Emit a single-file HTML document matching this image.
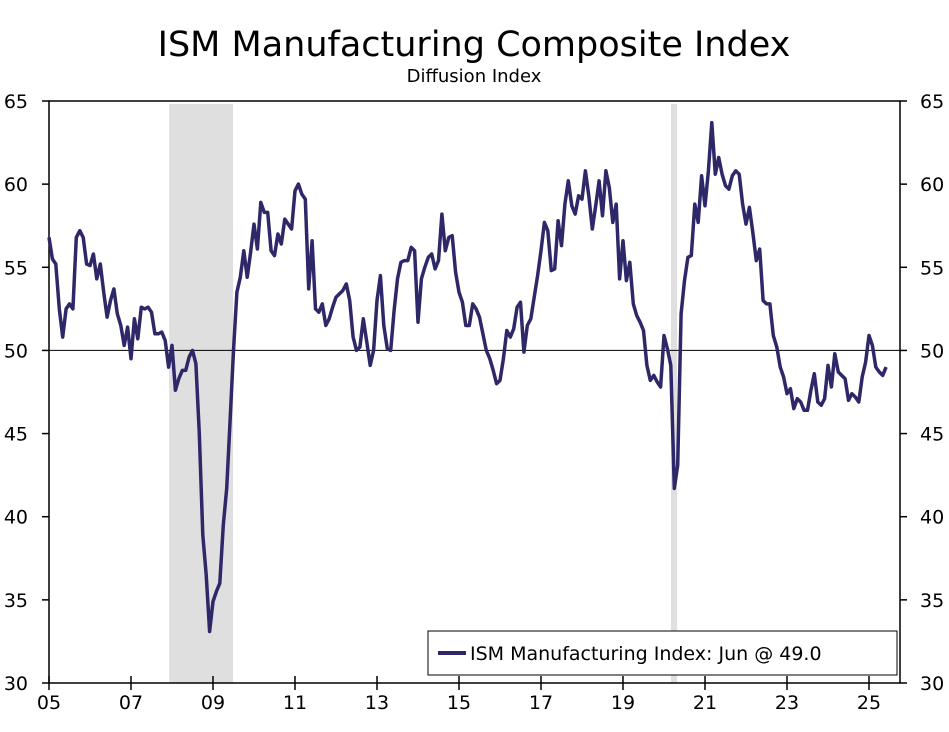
<!DOCTYPE html>
<html><head><meta charset="utf-8"><style>
body{margin:0;background:#fff;}
svg text{font-family:"DejaVu Sans","Liberation Sans",sans-serif;fill:#000;}
</style></head><body>
<svg id="chart" width="949" height="727" viewBox="0 0 949 727" xmlns="http://www.w3.org/2000/svg">
<text x="474" y="56" font-size="35" text-anchor="middle">ISM Manufacturing Composite Index</text>
<text x="474" y="82" font-size="18" text-anchor="middle">Diffusion Index</text>
<g id="rec"></g><g id="axes"></g><g id="series"></g>
<g>
<rect x="428" y="631" width="469" height="44" fill="#fff" stroke="#000" stroke-width="1"/>
<line x1="438" y1="653" x2="466" y2="653" stroke="#2e2868" stroke-width="4"/>
<text x="470" y="660" font-size="19">ISM Manufacturing Index: Jun @ 49.0</text>
</g>
</svg>
<script>
const startYear = 2005;
const values = [
56.8,55.5,55.2,52.5,50.8,52.5,52.8,52.5,56.8,57.2,56.8,55.2,
55.1,55.8,54.3,55.2,53.5,52.0,53.0,53.7,52.2,51.5,50.3,51.4,
49.5,51.9,50.7,52.6,52.5,52.6,52.3,51.0,51.0,51.1,50.6,49.0,
50.3,47.6,48.3,48.8,48.8,49.6,50.0,49.2,45.0,38.9,36.5,33.1,
34.9,35.5,36.0,39.5,41.7,45.8,50.0,53.5,54.4,56.0,54.4,55.9,
57.6,56.1,58.9,58.3,58.3,56.0,55.7,57.0,56.4,57.9,57.6,57.3,
59.6,60.0,59.4,59.1,53.7,56.6,52.5,52.3,52.8,51.5,51.9,52.6,
53.2,53.4,53.6,54.0,53.0,50.8,50.0,50.2,51.9,50.5,49.1,50.0,
53.0,54.5,51.5,50.1,50.0,52.4,54.3,55.3,55.4,55.4,56.2,56.0,
51.7,54.3,55.0,55.6,55.8,54.9,55.4,58.2,56.0,56.8,56.9,54.7,
53.5,52.9,51.5,51.5,52.8,52.5,52.0,51.0,50.0,49.5,48.8,48.0,
48.2,49.5,51.2,50.8,51.3,52.6,52.9,49.9,51.5,51.9,53.2,54.5,
56.0,57.7,57.2,54.8,54.9,57.8,56.3,58.8,60.2,58.7,58.2,59.3,
59.1,60.8,59.3,57.3,58.7,60.2,58.1,60.8,59.8,57.7,58.8,54.3,
56.6,54.2,55.3,52.8,52.1,51.7,51.2,49.1,48.2,48.5,48.1,47.8,
50.9,50.1,49.1,41.7,43.1,52.2,54.2,55.6,55.7,58.8,57.7,60.5,
58.7,60.8,63.7,60.6,61.6,60.6,59.9,59.7,60.5,60.8,60.6,58.8,
57.6,58.6,57.1,55.4,56.1,53.0,52.8,52.8,50.9,50.2,49.0,48.4,
47.4,47.7,46.5,47.1,46.9,46.4,46.4,47.6,48.6,46.9,46.7,47.1,
49.1,47.8,49.8,48.7,48.5,48.3,47.0,47.4,47.2,46.9,48.4,49.3,
50.9,50.3,49.0,48.7,48.5,49.0
];
const yTicks = [30,35,40,45,50,55,60,65];
const xTickYears = [2005,2007,2009,2011,2013,2015,2017,2019,2021,2023,2025];
const recessions = [[2007.93, 2009.49],[2020.17, 2020.32]];

const L=49,R=900,T=101,B=683;
const xs = yr => L + (yr-2005)*(820/20);
const ys = v => B - (v-30)*(B-T)/35;
const NS="http://www.w3.org/2000/svg";
function mk(tag,attrs,parent){const e=document.createElementNS(NS,tag);for(const k in attrs)e.setAttribute(k,attrs[k]);parent.appendChild(e);return e;}
const rec=document.getElementById('rec'),axes=document.getElementById('axes'),ser=document.getElementById('series');
recessions.forEach(r=>{
  const e=mk('rect',{x:xs(r[0]),y:T+3,width:xs(r[1])-xs(r[0]),height:B-T-3,fill:'#dfdfdf'},rec);
  
  
});
let f=mk('rect',{x:L,y:T,width:R-L,height:B-T,fill:'none',stroke:'#000','stroke-width':1.5},axes);


let z=mk('line',{x1:L,x2:R,y1:ys(50),y2:ys(50),stroke:'#000','stroke-width':1},axes);


yTicks.forEach(v=>{
  const y=ys(v);
  mk('line',{x1:L-7,x2:L,y1:y,y2:y,stroke:'#000','stroke-width':1.5},axes);
  mk('line',{x1:R,x2:R+7,y1:y,y2:y,stroke:'#000','stroke-width':1.5},axes);
  const a=mk('text',{x:28,y:y+7,'font-size':19,'text-anchor':'end'},axes);a.textContent=v;
  
  
  const b=mk('text',{x:920,y:y+7,'font-size':19},axes);b.textContent=v;
  
  
});
xTickYears.forEach(yr=>{
  const x=xs(yr);
  mk('line',{x1:x,x2:x,y1:B+7,y2:B-7,stroke:'#000','stroke-width':1.5},axes);
  const t=mk('text',{x:x,y:B+26,'font-size':19,'text-anchor':'middle'},axes);
  t.textContent=String(yr%100).padStart(2,'0');
  
  
});
const pts=values.map((v,i)=>xs(startYear+i/12).toFixed(1)+','+ys(v).toFixed(1)).join(' ');
const pl=mk('polyline',{points:pts,fill:'none',stroke:'#2e2868','stroke-width':3.5,'stroke-linejoin':'round'},ser);


</script>
</body></html>
